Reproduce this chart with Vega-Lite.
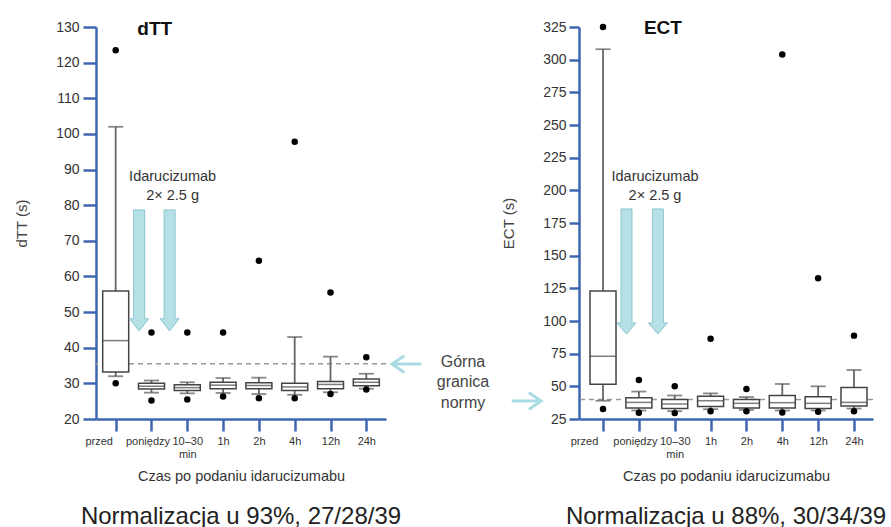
{
  "$schema": "https://vega.github.io/schema/vega-lite/v6.json",
  "padding": {"left": 14, "top": 19, "right": 0, "bottom": 0},
  "bounds": "flush",
  "spacing": 193,
  "config": {
    "view": {"stroke": null},
    "font": "Liberation Sans",
    "axis": {"labelFont": "Liberation Sans", "titleFont": "Liberation Sans", "grid": false, "labelOverlap": false, "labelFlush": false, "labelBound": false,
      "tickWidth": 2.5, "tickColor": "#3f67b1", "domainColor": "#3f67b1", "domainWidth": 2.5, "labelColor": "#333",
      "titleFontWeight": "normal", "titleColor": "#444"},
    "axisY": {"labelFontSize": 14, "titleFontSize": 15, "labelOverlap": false},
    "axisX": {"labelFontSize": 11, "labelPadding": 4, "labelLineHeight": 13, "tickSize": 12, "titleFontSize": 14.5, "titleColor": "#333", "titlePadding": 10,
      "labelExpr": "['przed','poniędzy',['10–30','min'],'1h','2h','4h','12h','24h'][datum.value]"}
  },
  "datasets": {
    "dttBox": [
      {"t": 0, "lo": 32, "q1": 33.2, "med": 42, "q3": 55.9, "hi": 102},
      {"t": 1, "lo": 27.4, "q1": 28.4, "med": 29.2, "q3": 30.0, "hi": 30.8},
      {"t": 2, "lo": 27.2, "q1": 28.0, "med": 28.8, "q3": 29.6, "hi": 30.3},
      {"t": 3, "lo": 27.3, "q1": 28.5, "med": 29.5, "q3": 30.3, "hi": 31.5},
      {"t": 4, "lo": 27.0, "q1": 28.5, "med": 29.4, "q3": 30.2, "hi": 31.6},
      {"t": 5, "lo": 26.8, "q1": 28.0, "med": 29.0, "q3": 30.0, "hi": 43.0},
      {"t": 6, "lo": 27.5, "q1": 28.5, "med": 29.7, "q3": 30.5, "hi": 37.5},
      {"t": 7, "lo": 28.5, "q1": 29.3, "med": 30.3, "q3": 31.2, "hi": 32.7}
    ],
    "dttOut": [
      {"t": 0, "v": 123.5}, {"t": 0, "v": 30},
      {"t": 1, "v": 44.3}, {"t": 1, "v": 25.2},
      {"t": 2, "v": 44.3}, {"t": 2, "v": 25.5},
      {"t": 3, "v": 44.3}, {"t": 3, "v": 26.3},
      {"t": 4, "v": 64.4}, {"t": 4, "v": 25.8},
      {"t": 5, "v": 97.8}, {"t": 5, "v": 25.8},
      {"t": 6, "v": 55.5}, {"t": 6, "v": 27},
      {"t": 7, "v": 37.3}, {"t": 7, "v": 28.3}
    ],
    "ectBox": [
      {"t": 0, "lo": 39, "q1": 51.5, "med": 73, "q3": 123, "hi": 308},
      {"t": 1, "lo": 31.5, "q1": 33.4, "med": 37.7, "q3": 41.3, "hi": 46},
      {"t": 2, "lo": 31, "q1": 33, "med": 36.5, "q3": 40, "hi": 43},
      {"t": 3, "lo": 32.5, "q1": 34.5, "med": 39, "q3": 42.5, "hi": 44.6},
      {"t": 4, "lo": 32, "q1": 33.5, "med": 37, "q3": 40, "hi": 41.8},
      {"t": 5, "lo": 31.5, "q1": 33.5, "med": 37.5, "q3": 43, "hi": 51.8},
      {"t": 6, "lo": 31.5, "q1": 33, "med": 37, "q3": 42, "hi": 50},
      {"t": 7, "lo": 33, "q1": 35, "med": 37.7, "q3": 49.2, "hi": 62.5}
    ],
    "ectOut": [
      {"t": 0, "v": 325}, {"t": 0, "v": 32.7},
      {"t": 1, "v": 54.9}, {"t": 1, "v": 29.8},
      {"t": 2, "v": 50}, {"t": 2, "v": 29.5},
      {"t": 3, "v": 86.5}, {"t": 3, "v": 31},
      {"t": 4, "v": 48}, {"t": 4, "v": 31},
      {"t": 5, "v": 304}, {"t": 5, "v": 30},
      {"t": 6, "v": 132.7}, {"t": 6, "v": 30.5},
      {"t": 7, "v": 88.8}, {"t": 7, "v": 31}
    ],
    "dttLimit": [{"v": 35.5}],
    "ectLimit": [{"v": 40}],
    "dttName": [{"t": 1.09, "v": 129.3, "label": "dTT"}],
    "ectName": [{"t": 1.67, "v": 324, "label": "ECT"}],
    "dttIda": [{"t": 1.59, "v": 87.8, "label": "Idarucizumab\n2× 2.5 g"}],
    "ectIda": [{"t": 1.45, "v": 210.1, "label": "Idarucizumab\n2× 2.5 g"}],
    "dttDose": [{"t": 0.655, "v": 61.7}, {"t": 1.506, "v": 61.7}],
    "ectDose": [{"t": 0.655, "v": 137.9}, {"t": 1.53, "v": 137.9}],
    "dttNormText": [{"t": 9.7, "v": 36.0, "label": "Górna\ngranica\nnormy"}],
    "dttNormArrow": [{"t": 8.11, "v": 35.4}],
    "ectNormArrow": [{"t": -2.12, "v": 38.8}]
  },
  "hconcat": [
    {
      "width": 290,
      "height": 392,
      "title": {"text": "Normalizacja u 93%, 27/28/39", "orient": "bottom", "anchor": "middle", "fontSize": 24, "fontWeight": "normal", "color": "#222", "offset": 22},
      "layer": [
        {
          "data": {"name": "dttLimit"},
          "mark": {"type": "rule", "color": "#9a9a9a", "strokeWidth": 1.5, "strokeDash": [5, 4]},
          "encoding": {
            "y": {"field": "v", "type": "quantitative", "title": "dTT (s)", "scale": {"domain": [20, 130], "nice": false, "zero": false, "padding": 0},
              "axis": {"values": [20, 30, 40, 50, 60, 70, 80, 90, 100, 110, 120, 130], "tickCount": 30, "tickSize": 13, "labelPadding": 4, "titlePadding": 26, "labelOverlap": false}}
          }
        },
        {
          "data": {"name": "dttBox"},
          "mark": {"type": "rule", "color": "#666", "strokeWidth": 1.8},
          "encoding": {
            "x": {"field": "t", "type": "quantitative", "title": "Czas po podaniu idarucizumabu", "scale": {"domain": [-0.55, 7.55], "nice": false, "zero": false, "padding": 0},
              "axis": {"values": [0, 1, 2, 3, 4, 5, 6, 7], "tickCount": 30,
                "labelOffset": {"condition": [{"test": "datum.value == 0", "value": -17}, {"test": "datum.value == 1", "value": -4}], "value": 0}}},
            "y": {"field": "lo", "type": "quantitative", "title": "dTT (s)", "axis": {"values": [20, 30, 40, 50, 60, 70, 80, 90, 100, 110, 120, 130], "tickCount": 30, "tickSize": 13, "labelPadding": 4, "titlePadding": 26, "labelOverlap": false}},
            "y2": {"field": "hi"}
          }
        },
        {
          "data": {"name": "dttBox"},
          "mark": {"type": "tick", "orient": "horizontal", "color": "#555", "size": 15, "thickness": 1.8},
          "encoding": {"x": {"field": "t", "type": "quantitative", "title": "Czas po podaniu idarucizumabu"}, "y": {"field": "lo", "type": "quantitative", "title": "dTT (s)"}}
        },
        {
          "data": {"name": "dttBox"},
          "mark": {"type": "tick", "orient": "horizontal", "color": "#555", "size": 15, "thickness": 1.8},
          "encoding": {"x": {"field": "t", "type": "quantitative", "title": "Czas po podaniu idarucizumabu"}, "y": {"field": "hi", "type": "quantitative", "title": "dTT (s)"}}
        },
        {
          "data": {"name": "dttBox"},
          "mark": {"type": "bar", "size": 26, "fill": "white", "stroke": "#444", "strokeWidth": 1.5},
          "encoding": {"x": {"field": "t", "type": "quantitative", "title": "Czas po podaniu idarucizumabu"}, "y": {"field": "q1", "type": "quantitative", "title": "dTT (s)"}, "y2": {"field": "q3"}}
        },
        {
          "data": {"name": "dttBox"},
          "mark": {"type": "tick", "orient": "horizontal", "color": "#444", "size": 26, "thickness": 1.5},
          "encoding": {"x": {"field": "t", "type": "quantitative", "title": "Czas po podaniu idarucizumabu"}, "y": {"field": "med", "type": "quantitative", "title": "dTT (s)"}}
        },
        {
          "data": {"name": "dttOut"},
          "mark": {"type": "circle", "color": "black", "size": 42, "opacity": 1},
          "encoding": {"x": {"field": "t", "type": "quantitative", "title": "Czas po podaniu idarucizumabu"}, "y": {"field": "v", "type": "quantitative", "title": "dTT (s)"}}
        },
        {
          "data": {"name": "dttDose"},
          "mark": {"type": "point", "filled": true, "fill": "#b5e0e6", "stroke": "#8cc5d0", "strokeWidth": 1, "opacity": 1, "size": 14641,
            "shape": "M -0.091 -1 L 0.091 -1 L 0.091 0.8 L 0.157 0.8 L 0 1 L -0.157 0.8 L -0.091 0.8 Z"},
          "encoding": {"x": {"field": "t", "type": "quantitative", "title": "Czas po podaniu idarucizumabu"}, "y": {"field": "v", "type": "quantitative", "title": "dTT (s)"}}
        },
        {
          "data": {"name": "dttNormArrow"},
          "mark": {"type": "point", "filled": false, "stroke": "#a9dce2", "strokeWidth": 3, "opacity": 1, "size": 784, "strokeCap": "round",
            "shape": "M -1 0 L 1 0 M -0.2 -0.55 L -1 0 L -0.2 0.55"},
          "encoding": {"x": {"field": "t", "type": "quantitative", "title": "Czas po podaniu idarucizumabu"}, "y": {"field": "v", "type": "quantitative", "title": "dTT (s)"}}
        },
        {
          "data": {"name": "dttName"},
          "mark": {"type": "text", "fontSize": 19, "fontWeight": "bold", "color": "#111", "align": "center", "baseline": "middle"},
          "encoding": {"x": {"field": "t", "type": "quantitative", "title": "Czas po podaniu idarucizumabu"}, "y": {"field": "v", "type": "quantitative", "title": "dTT (s)"}, "text": {"field": "label"}}
        },
        {
          "data": {"name": "dttIda"},
          "mark": {"type": "text", "fontSize": 14.5, "color": "#333", "align": "center", "baseline": "middle", "lineBreak": "\n", "lineHeight": 19},
          "encoding": {"x": {"field": "t", "type": "quantitative", "title": "Czas po podaniu idarucizumabu"}, "y": {"field": "v", "type": "quantitative", "title": "dTT (s)"}, "text": {"field": "label"}}
        },
        {
          "data": {"name": "dttNormText"},
          "mark": {"type": "text", "fontSize": 16, "color": "#444", "align": "center", "baseline": "middle", "lineBreak": "\n", "lineHeight": 20.5},
          "encoding": {"x": {"field": "t", "type": "quantitative", "title": "Czas po podaniu idarucizumabu"}, "y": {"field": "v", "type": "quantitative", "title": "dTT (s)"}, "text": {"field": "label"}}
        }
      ]
    },
    {
      "width": 294,
      "height": 392,
      "title": {"text": "Normalizacja u 88%, 30/34/39", "orient": "bottom", "anchor": "middle", "fontSize": 24, "fontWeight": "normal", "color": "#222", "offset": 22},
      "layer": [
        {
          "data": {"name": "ectLimit"},
          "mark": {"type": "rule", "color": "#9a9a9a", "strokeWidth": 1.5, "strokeDash": [5, 4]},
          "encoding": {
            "y": {"field": "v", "type": "quantitative", "title": "ECT (s)", "scale": {"domain": [25, 325], "nice": false, "zero": false, "padding": 0},
              "axis": {"values": [25, 50, 75, 100, 125, 150, 175, 200, 225, 250, 275, 300, 325], "tickCount": 30, "tickSize": 10, "labelPadding": 3, "titlePadding": 26, "labelOverlap": false}}
          }
        },
        {
          "data": {"name": "ectBox"},
          "mark": {"type": "rule", "color": "#666", "strokeWidth": 1.8},
          "encoding": {
            "x": {"field": "t", "type": "quantitative", "title": "Czas po podaniu idarucizumabu", "scale": {"domain": [-0.67, 7.53], "nice": false, "zero": false, "padding": 0},
              "axis": {"values": [0, 1, 2, 3, 4, 5, 6, 7], "tickCount": 30,
                "labelOffset": {"condition": [{"test": "datum.value == 0", "value": -19}, {"test": "datum.value == 1", "value": -4}], "value": 0}}},
            "y": {"field": "lo", "type": "quantitative", "title": "ECT (s)", "axis": {"values": [25, 50, 75, 100, 125, 150, 175, 200, 225, 250, 275, 300, 325], "tickCount": 30, "tickSize": 10, "labelPadding": 3, "titlePadding": 26, "labelOverlap": false}},
            "y2": {"field": "hi"}
          }
        },
        {
          "data": {"name": "ectBox"},
          "mark": {"type": "tick", "orient": "horizontal", "color": "#555", "size": 15, "thickness": 1.8},
          "encoding": {"x": {"field": "t", "type": "quantitative", "title": "Czas po podaniu idarucizumabu"}, "y": {"field": "lo", "type": "quantitative", "title": "ECT (s)"}}
        },
        {
          "data": {"name": "ectBox"},
          "mark": {"type": "tick", "orient": "horizontal", "color": "#555", "size": 15, "thickness": 1.8},
          "encoding": {"x": {"field": "t", "type": "quantitative", "title": "Czas po podaniu idarucizumabu"}, "y": {"field": "hi", "type": "quantitative", "title": "ECT (s)"}}
        },
        {
          "data": {"name": "ectBox"},
          "mark": {"type": "bar", "size": 26, "fill": "white", "stroke": "#444", "strokeWidth": 1.5},
          "encoding": {"x": {"field": "t", "type": "quantitative", "title": "Czas po podaniu idarucizumabu"}, "y": {"field": "q1", "type": "quantitative", "title": "ECT (s)"}, "y2": {"field": "q3"}}
        },
        {
          "data": {"name": "ectBox"},
          "mark": {"type": "tick", "orient": "horizontal", "color": "#444", "size": 26, "thickness": 1.5},
          "encoding": {"x": {"field": "t", "type": "quantitative", "title": "Czas po podaniu idarucizumabu"}, "y": {"field": "med", "type": "quantitative", "title": "ECT (s)"}}
        },
        {
          "data": {"name": "ectOut"},
          "mark": {"type": "circle", "color": "black", "size": 42, "opacity": 1},
          "encoding": {"x": {"field": "t", "type": "quantitative", "title": "Czas po podaniu idarucizumabu"}, "y": {"field": "v", "type": "quantitative", "title": "ECT (s)"}}
        },
        {
          "data": {"name": "ectDose"},
          "mark": {"type": "point", "filled": true, "fill": "#b5e0e6", "stroke": "#8cc5d0", "strokeWidth": 1, "opacity": 1, "size": 15625,
            "shape": "M -0.088 -1 L 0.088 -1 L 0.088 0.824 L 0.152 0.824 L 0 1 L -0.152 0.824 L -0.088 0.824 Z"},
          "encoding": {"x": {"field": "t", "type": "quantitative", "title": "Czas po podaniu idarucizumabu"}, "y": {"field": "v", "type": "quantitative", "title": "ECT (s)"}}
        },
        {
          "data": {"name": "ectNormArrow"},
          "mark": {"type": "point", "filled": false, "stroke": "#a9dce2", "strokeWidth": 3, "opacity": 1, "size": 784, "strokeCap": "round",
            "shape": "M 1 0 L -1 0 M 0.2 -0.55 L 1 0 L 0.2 0.55"},
          "encoding": {"x": {"field": "t", "type": "quantitative", "title": "Czas po podaniu idarucizumabu"}, "y": {"field": "v", "type": "quantitative", "title": "ECT (s)"}}
        },
        {
          "data": {"name": "ectName"},
          "mark": {"type": "text", "fontSize": 19, "fontWeight": "bold", "color": "#111", "align": "center", "baseline": "middle"},
          "encoding": {"x": {"field": "t", "type": "quantitative", "title": "Czas po podaniu idarucizumabu"}, "y": {"field": "v", "type": "quantitative", "title": "ECT (s)"}, "text": {"field": "label"}}
        },
        {
          "data": {"name": "ectIda"},
          "mark": {"type": "text", "fontSize": 14.5, "color": "#333", "align": "center", "baseline": "middle", "lineBreak": "\n", "lineHeight": 19},
          "encoding": {"x": {"field": "t", "type": "quantitative", "title": "Czas po podaniu idarucizumabu"}, "y": {"field": "v", "type": "quantitative", "title": "ECT (s)"}, "text": {"field": "label"}}
        }
      ]
    }
  ]
}
